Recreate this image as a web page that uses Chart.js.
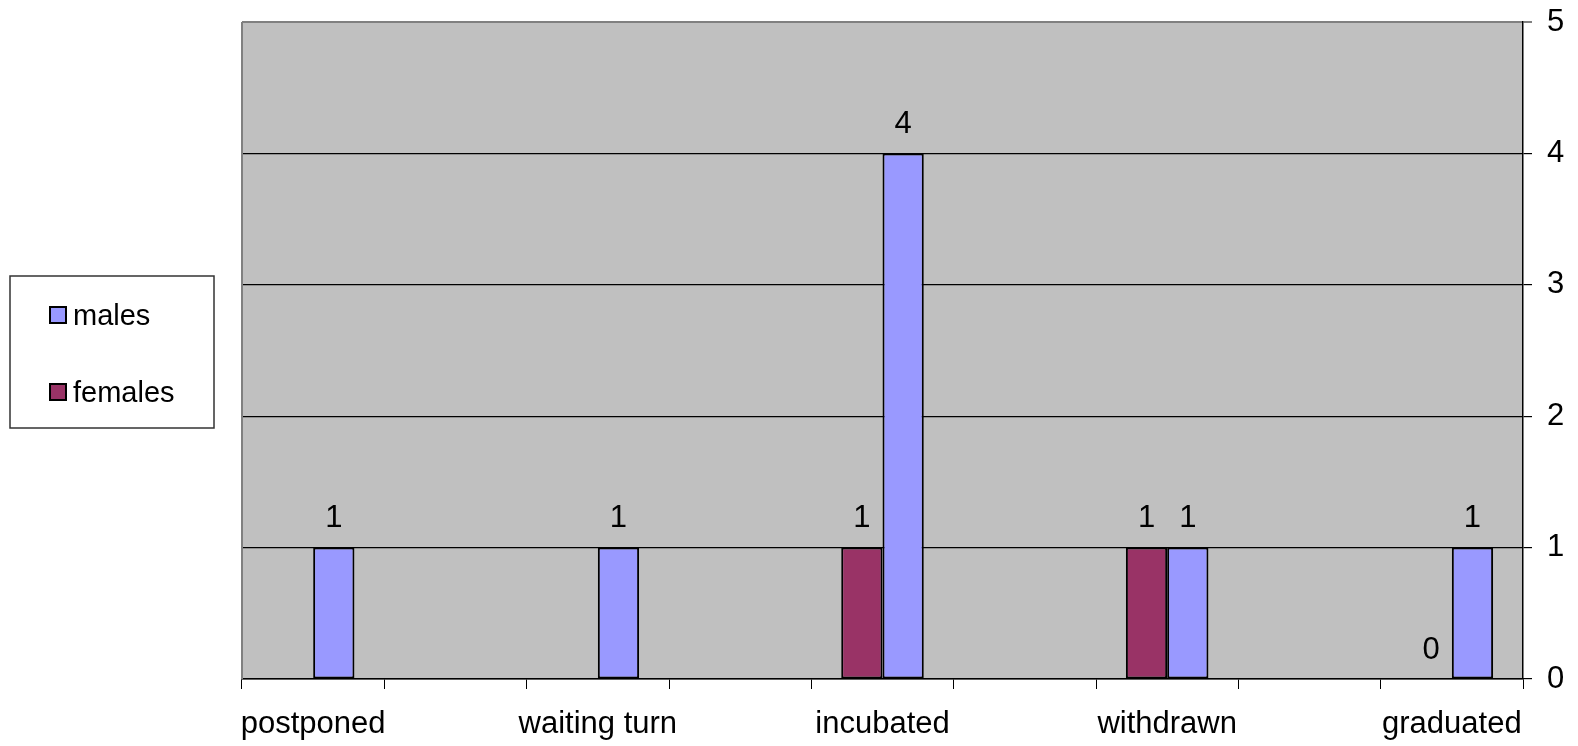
<!DOCTYPE html>
<html>
<head>
<meta charset="utf-8">
<title>males / females by status</title>
<script src="https://cdn.jsdelivr.net/npm/chart.js@4/dist/chart.umd.min.js"></script>
<style>
  html, body { margin: 0; padding: 0; background: #fff; }
  #wrap { width: 1578px; height: 746px; }
</style>
</head>
<body>
<div id="wrap"><canvas id="statusChart"></canvas></div>
<script>
// category slots; the blank ones sit between the named groups, as in the original sheet
const categories = ['postponed', '', 'waiting turn', '', 'incubated', '', 'withdrawn', '', 'graduated'];
const males   = [1, null, 1, null, 4, null, 1, null, 1];
const females = [null, null, null, null, 1, null, 1, null, 0];
const yTicks  = [0, 1, 2, 3, 4, 5];

const FONT = '"Liberation Sans", Arial, sans-serif';

/**
 * Grey plot area with the thin grey frame on the left
 */
const plotBackground = {
    id: 'plotBackground',
    beforeDraw(chart) {
        const { ctx, chartArea: a } = chart;
        ctx.save();
        ctx.fillStyle = '#C0C0C0';
        ctx.fillRect(a.left, a.top, a.right - a.left, a.bottom - a.top);
        ctx.restore();
    },
    afterDraw(chart) {
        const { ctx, chartArea: a } = chart;
        ctx.save();
        ctx.strokeStyle = '#808080';
        ctx.lineWidth = 2;
        ctx.beginPath();
        ctx.moveTo(a.left, a.bottom);
        ctx.lineTo(a.left, a.top);
        ctx.stroke();
        ctx.restore();
    }
};

/**
 * Value labels above each bar
 */
const valueLabels = {
    id: 'valueLabels',
    afterDatasetsDraw(chart) {
        const ctx = chart.ctx;
        ctx.save();
        ctx.font = '31px ' + FONT;
        ctx.fillStyle = '#000';
        ctx.textAlign = 'center';
        ctx.textBaseline = 'middle';
        chart.data.datasets.forEach((ds, i) => {
            chart.getDatasetMeta(i).data.forEach((bar, j) => {
                const v = ds.data[j];
                if (v === null || v === undefined) return;
                ctx.fillText(String(v), bar.x, bar.y - 29);
            });
        });
        ctx.restore();
    }
};

/**
 * Boxed legend on the left, males listed first
 */
const boxLegend = {
    id: 'boxLegend',
    afterDraw(chart) {
        const ctx = chart.ctx;
        const box = { x: 10, y: 276, w: 204, h: 152 };
        ctx.save();
        ctx.fillStyle = '#fff';
        ctx.fillRect(box.x, box.y, box.w, box.h);
        ctx.strokeStyle = '#333';
        ctx.lineWidth = 1.5;
        ctx.strokeRect(box.x, box.y, box.w, box.h);
        ctx.font = '29px ' + FONT;
        ctx.textBaseline = 'alphabetic';
        ctx.textAlign = 'left';
        const items = chart.data.datasets.slice().reverse();
        items.forEach((ds, i) => {
            const top = 307 + i * 77;
            ctx.fillStyle = ds.backgroundColor;
            ctx.fillRect(50, top, 16, 16);
            ctx.strokeStyle = '#000';
            ctx.lineWidth = 2;
            ctx.strokeRect(50, top, 16, 16);
            ctx.fillStyle = '#000';
            ctx.fillText(ds.label, 73, top + 18);
        });
        ctx.restore();
    }
};

new Chart(document.getElementById('statusChart'), {
    type: 'bar',
    data: {
        labels: categories,
        datasets: [
            {
                label: 'females',
                data: females,
                backgroundColor: '#993366',
                borderColor: '#000',
                borderWidth: 2,
                borderSkipped: false
            },
            {
                label: 'males',
                data: males,
                backgroundColor: '#9999FF',
                borderColor: '#000',
                borderWidth: 2,
                borderSkipped: false
            }
        ]
    },
    options: {
        responsive: true,
        maintainAspectRatio: false,
        animation: false,
        datasets: {
            bar: { categoryPercentage: 0.58, barPercentage: 1.0 }
        },
        layout: {
            padding: { left: 242, top: 22, right: 0, bottom: 0 }
        },
        plugins: {
            legend: { display: false },
            tooltip: { enabled: false }
        },
        scales: {
            x: {
                offset: true,
                grid: {
                    offset: true,
                    drawOnChartArea: false,
                    drawTicks: true,
                    tickLength: 10,
                    color: '#000'
                },
                border: { color: '#000', width: 1.5 },
                ticks: {
                    autoSkip: false,
                    maxRotation: 0,
                    padding: 17,
                    color: '#000',
                    font: { family: FONT, size: 31 }
                },
                afterFit(scale) {
                    scale.height = 67;
                    scale.paddingLeft = 0;
                    scale.paddingRight = 0;
                }
            },
            y: {
                position: 'right',
                min: 0,
                max: 5,
                afterBuildTicks(scale) {
                    scale.ticks = yTicks.map(v => ({ value: v }));
                },
                grid: {
                    tickLength: 9,
                    color: ctx => (ctx.tick && ctx.tick.value === 5) ? '#808080' : '#000',
                    lineWidth: ctx => (ctx.tick && ctx.tick.value === 5) ? 2 : 1.2
                },
                border: { color: '#000', width: 1.5 },
                ticks: {
                    padding: 15,
                    color: '#000',
                    font: { family: FONT, size: 31 }
                },
                afterFit(scale) {
                    scale.width = 55;
                    scale.paddingTop = 0;
                    scale.paddingBottom = 0;
                }
            }
        }
    },
    plugins: [plotBackground, valueLabels, boxLegend]
});
</script>
</body>
</html>
